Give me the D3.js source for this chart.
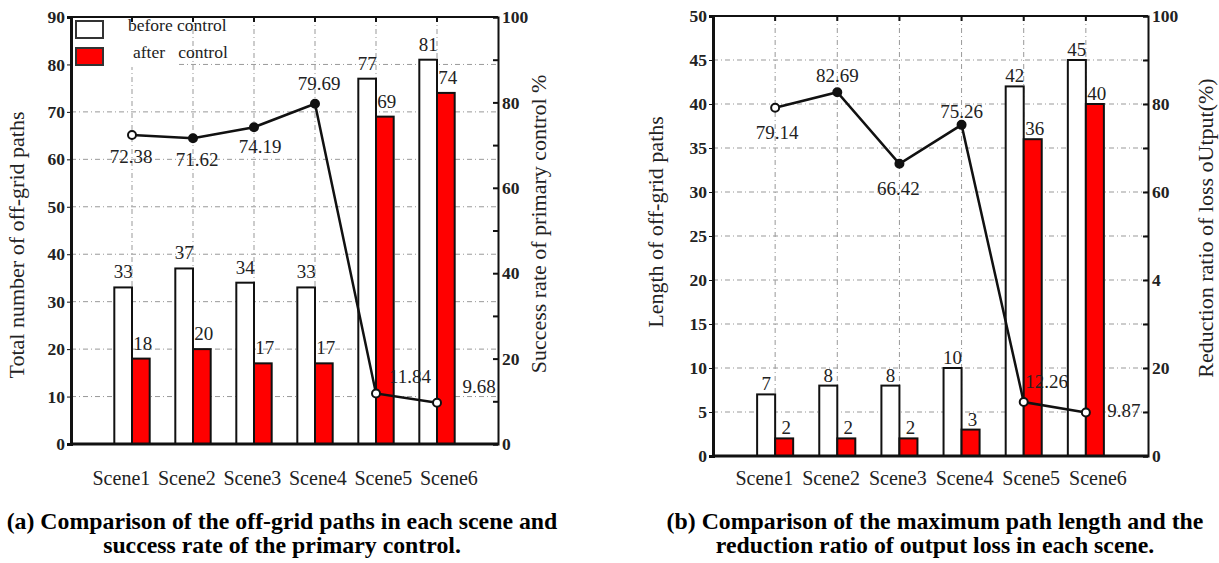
<!DOCTYPE html>
<html>
<head>
<meta charset="utf-8">
<style>
  body { margin: 0; background: #fff; }
  svg text { font-family: "Liberation Serif", "Times New Roman", serif; fill: #222; }
  .axis text { font-weight: bold; font-size: 17.5px; }
  .axis path, .axis line { stroke: #111; }
  .grid line { stroke: #999; stroke-dasharray: 5,3,1,3; }
  .bar { stroke: #111; stroke-width: 2; }
  .caption { font-weight: bold; font-size: 23.8px; fill: #000; }
</style>
<script src="https://cdnjs.cloudflare.com/ajax/libs/d3/7.8.5/d3.min.js"></script>
</head>
<body>
<svg width="1219" height="563"></svg>
<script>
// data
var scenes = ["Scene1", "Scene2", "Scene3", "Scene4", "Scene5", "Scene6"];

var pathsBefore = [33, 37, 34, 33, 77, 81];
var pathsAfter = [18, 20, 17, 17, 69, 74];
var successRate = [72.38, 71.62, 74.19, 79.69, 11.84, 9.68];

var lengthBefore = [7, 8, 8, 10, 42, 45];
var lengthAfter = [2, 2, 2, 3, 36, 40];
var lossReduction = [79.14, 82.69, 66.42, 75.26, 12.26, 9.87];

var leftTicksA = [0, 10, 20, 30, 40, 50, 60, 70, 80, 90];
var leftTicksB = [0, 5, 10, 15, 20, 25, 30, 35, 40, 45, 50];
var rightTicks = [0, 10, 20, 30, 40, 50, 60, 70, 80, 90, 100];
var rightLabelsA = ["0", "", "20", "", "40", "", "60", "", "80", "", "100"];
var rightLabelsB = ["0", "", "20", "", "4", "", "60", "", "80", "", "100"];

var svg = d3.select("svg");

function panel(cfg) {
    var m = cfg.box;
    var w = m.right - m.left, h = m.bottom - m.top;
    var g = svg.append("g").attr("transform", "translate(" + m.left + "," + m.top + ")");

    var x = d3.scaleLinear().domain([0, 7]).range([0, w]);
    var y = d3.scaleLinear().domain([0, cfg.leftMax]).range([h, 0]);
    var y2 = d3.scaleLinear().domain([0, 100]).range([h, 0]);
    var bw = x(0.29) - x(0);

    // grid
    var grid = g.append("g").attr("class", "grid");
    grid.selectAll(".hg").data(cfg.leftTicks.slice(1, -1)).enter().append("line")
        .attr("x1", 0).attr("x2", w)
        .attr("y1", function(d) { return y(d); }).attr("y2", function(d) { return y(d); });
    grid.selectAll(".vg").data(scenes).enter().append("line")
        .attr("x1", function(d, i) { return x(i + 1); }).attr("x2", function(d, i) { return x(i + 1); })
        .attr("y1", 0).attr("y2", h);

    // legend background
    if (cfg.legend) {
        g.append("rect").attr("x", 2).attr("y", 2).attr("width", 105).attr("height", 48).attr("fill", "#fff");
    }

    // bars
    g.selectAll(".b1").data(cfg.before).enter().append("rect")
        .attr("class", "bar").attr("fill", "#fff")
        .attr("x", function(d, i) { return x(i + 1) - bw; })
        .attr("y", function(d) { return y(d); })
        .attr("width", bw).attr("height", function(d) { return h - y(d); });
    g.selectAll(".b2").data(cfg.after).enter().append("rect")
        .attr("class", "bar").attr("fill", "#ff0000")
        .attr("x", function(d, i) { return x(i + 1); })
        .attr("y", function(d) { return y(d); })
        .attr("width", bw).attr("height", function(d) { return h - y(d); });

    // bar labels
    g.selectAll(".l1").data(cfg.before).enter().append("text")
        .attr("text-anchor", "middle").attr("font-size", 19)
        .attr("x", function(d, i) { return x(i + 1) - bw / 2; })
        .attr("y", function(d) { return y(d) - cfg.labelGap; })
        .text(function(d) { return d; });
    g.selectAll(".l2").data(cfg.after).enter().append("text")
        .attr("text-anchor", "middle").attr("font-size", 19)
        .attr("x", function(d, i) { return x(i + 1) + bw / 2 + 2; })
        .attr("y", function(d) { return y(d) - cfg.labelGap; })
        .text(function(d) { return d; });

    // line
    var line = d3.line().x(function(d, i) { return x(i + 1); }).y(function(d) { return y2(d); });
    g.append("path").datum(cfg.rate).attr("d", line)
        .attr("fill", "none").attr("stroke", "#111").attr("stroke-width", 2.5);
    g.selectAll(".pt").data(cfg.rate).enter().append("circle")
        .attr("cx", function(d, i) { return x(i + 1); })
        .attr("cy", function(d) { return y2(d); })
        .attr("r", 4)
        .attr("fill", function(d, i) { return cfg.hollow.indexOf(i) >= 0 ? "#fff" : "#111"; })
        .attr("stroke", "#111").attr("stroke-width", 2);
    g.selectAll(".pl").data(cfg.rate).enter().append("text")
        .attr("text-anchor", "middle").attr("font-size", 19)
        .attr("x", function(d, i) { return x(i + 1) + cfg.rateOff[i][0]; })
        .attr("y", function(d, i) { return y2(d) + cfg.rateOff[i][1]; })
        .text(function(d) { return d.toFixed(2); });

    // axes
    var ax = g.append("g").attr("class", "axis")
        .call(d3.axisLeft(y).tickValues(cfg.leftTicks).tickSize(4).tickPadding(2).tickFormat(d3.format("d")));
    ax.select(".domain").attr("stroke-width", 3);
    var ar = g.append("g").attr("class", "axis").attr("transform", "translate(" + w + ",0)")
        .call(d3.axisRight(y2).tickValues(rightTicks).tickSize(-5).tickPadding(4)
            .tickFormat(function(d, i) { return cfg.rightLabels[i]; }));
    ar.select(".domain").attr("stroke-width", 2);
    ar.selectAll(".tick line").attr("stroke-width", 2);
    g.append("line").attr("x1", 0).attr("x2", w).attr("y1", h).attr("y2", h)
        .attr("stroke", "#111").attr("stroke-width", 3);
    g.append("line").attr("x1", 0).attr("x2", w).attr("y1", 0).attr("y2", 0)
        .attr("stroke", "#111").attr("stroke-width", 2);
    g.selectAll(".tt").data(scenes).enter().append("line")
        .attr("x1", function(d, i) { return x(i + 1); }).attr("x2", function(d, i) { return x(i + 1); })
        .attr("y1", 0).attr("y2", 5).attr("stroke", "#111").attr("stroke-width", 2);

    // scene labels
    var xs = d3.scalePoint().domain(scenes).range([w * 0.118, w * 0.885]);
    g.selectAll(".sl").data(scenes).enter().append("text")
        .attr("text-anchor", "middle").attr("font-size", 20)
        .attr("x", function(d) { return xs(d); }).attr("y", h + cfg.sceneY)
        .text(function(d) { return d; });

    // axis titles
    g.append("text").attr("font-size", 22).attr("text-anchor", "middle")
        .attr("transform", "translate(" + cfg.leftTitleX + "," + cfg.leftTitleY + ") rotate(-90)")
        .text(cfg.leftTitle);
    g.append("text").attr("font-size", 22).attr("text-anchor", "middle")
        .attr("transform", "translate(" + (w + cfg.rightTitleX) + "," + cfg.rightTitleY + ") rotate(-90)")
        .text(cfg.rightTitle);

    // legend
    if (cfg.legend) {
        var lg = g.append("g").attr("transform", "translate(5,4)");
        lg.append("rect").attr("width", 27).attr("height", 17).attr("fill", "#fff").attr("stroke", "#333").attr("stroke-width", 2);
        lg.append("rect").attr("y", 27).attr("width", 27).attr("height", 17).attr("fill", "#ff0000").attr("stroke", "#333").attr("stroke-width", 2);
        lg.append("text").attr("x", 52).attr("y", 10).attr("font-size", 17.5).text("before control");
        lg.append("text").attr("x", 57).attr("y", 37).attr("font-size", 17.5).attr("xml:space", "preserve").text("after   control");
    }

    // caption
    var cap = svg.append("text").attr("class", "caption").attr("text-anchor", "middle");
    cap.append("tspan").attr("x", cfg.capX).attr("y", 529).text(cfg.caption[0]);
    cap.append("tspan").attr("x", cfg.capX).attr("y", 553).text(cfg.caption[1]);
}

panel({
    box: { left: 71, top: 17, right: 498, bottom: 444 },
    leftMax: 90, leftTicks: leftTicksA, rightLabels: rightLabelsA,
    before: pathsBefore, after: pathsAfter, rate: successRate,
    hollow: [0, 4, 5], labelGap: 9, legend: true,
    rateOff: [[-1, 28], [4, 28], [6, 26], [4, -14], [34, -10], [42, -10]],
    sceneY: 41,
    leftTitle: "Total number of off-grid paths", leftTitleX: -47, leftTitleY: 228,
    rightTitle: "Success rate of primary control %", rightTitleX: 48, rightTitleY: 207,
    caption: ["(a) Comparison of the off-grid paths in each scene and", "success rate of the primary control."],
    capX: 282
});

panel({
    box: { left: 713, top: 16, right: 1148, bottom: 456 },
    leftMax: 50, leftTicks: leftTicksB, rightLabels: rightLabelsB,
    before: lengthBefore, after: lengthAfter, rate: lossReduction,
    hollow: [0, 4, 5], labelGap: 4, legend: false,
    rateOff: [[2, 31], [0, -10], [-1, 31], [0, -7], [23, -14], [38, 4]],
    sceneY: 29,
    leftTitle: "Length of off-grid paths", leftTitleX: -50, leftTitleY: 206,
    rightTitle: "Reduction ratio of loss oUtput(%)", rightTitleX: 65, rightTitleY: 212,
    caption: ["(b) Comparison of the maximum path length and the", "reduction ratio of output loss in each scene."],
    capX: 935
});
</script>
</body>
</html>
